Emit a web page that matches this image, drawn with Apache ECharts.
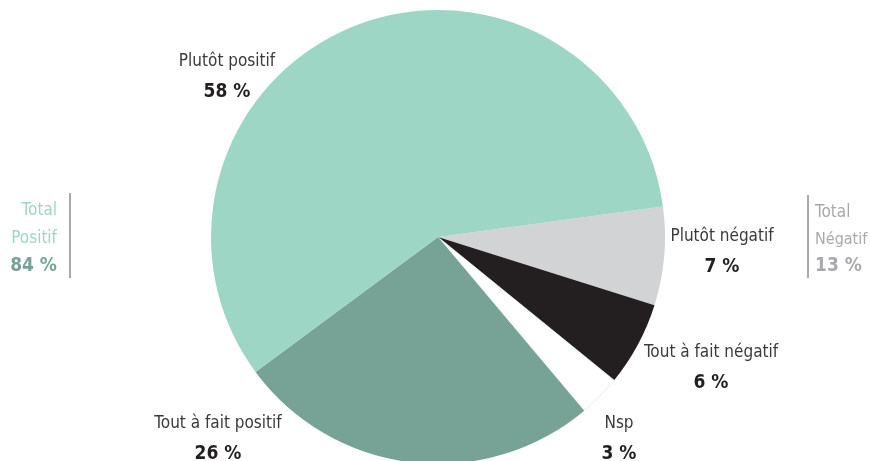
<!DOCTYPE html>
<html>
<head>
<meta charset="utf-8">
<script src="https://cdn.jsdelivr.net/npm/echarts@6/dist/echarts.min.js"></script>
<style>
  html, body { margin: 0; padding: 0; background: #fff; }
  #chart { width: 870px; height: 461px; }
</style>
</head>
<body>
<div id="chart"></div>
<script>
// slices, clockwise from the upper-right boundary
const categories = ['Plutôt négatif', 'Tout à fait négatif', 'Nsp', 'Tout à fait positif', 'Plutôt positif']
const percents = [7, 6, 3, 26, 58]
const sliceColors = ['#d1d3d4', '#231f20', '#ffffff', '#77a396', '#9ed6c6']
const totalPositif = 84
const totalNegatif = 13

// where each label block sits (centre of the two lines)
const labelPos = [[722, 252], [711, 368], [619, 439], [218, 439], [227, 77]]

const FONT = "'Liberation Sans Narrow', 'DejaVu Sans Condensed', sans-serif"

let chart = echarts.init(document.getElementById('chart'))
chart.setOption({
    animation: false,
    series: [{
        type: 'pie',
        center: [438, 237],
        radius: 227,
        startAngle: 7.7,
        clockwise: true,
        data: categories.map((c, i) => ({
            name: c,
            value: percents[i],
            itemStyle: c === 'Nsp'
                ? { color: sliceColors[i], borderColor: '#cfe6de', borderWidth: 0.6 }
                : { color: sliceColors[i] }
        })),
        label: {
            show: true,
            position: 'outside',
            formatter: p => '{n|' + p.name + '}\n{v|' + p.value + ' %}',
            align: 'center',
            rich: {
                n: { fontFamily: FONT, fontSize: 17, color: '#3a3a3a', lineHeight: 30, align: 'center' },
                v: { fontFamily: FONT, fontSize: 19, fontWeight: 'bold', color: '#231f20', lineHeight: 30, align: 'center' }
            }
        },
        labelLine: { show: false },
        labelLayout: function (params) {
            const p = labelPos[params.dataIndex]
            return { x: p[0], y: p[1], align: 'center', verticalAlign: 'middle' }
        },
        emphasis: { disabled: true }
    }],
    graphic: [
        { type: 'line', shape: { x1: 70, y1: 193, x2: 70, y2: 278 }, style: { stroke: '#555', lineWidth: 1 } },
        { type: 'text', x: 57, y: 211, style: { text: 'Total', font: '17px ' + FONT, fill: '#9ed6c6', align: 'right', verticalAlign: 'middle' } },
        { type: 'text', x: 57, y: 239, style: { text: 'Positif', font: '17px ' + FONT, fill: '#9ed6c6', align: 'right', verticalAlign: 'middle' } },
        { type: 'text', x: 57, y: 266, style: { text: totalPositif + ' %', font: 'bold 19px ' + FONT, fill: '#77a396', align: 'right', verticalAlign: 'middle' } },
        { type: 'line', shape: { x1: 808, y1: 195, x2: 808, y2: 278 }, style: { stroke: '#555', lineWidth: 1 } },
        { type: 'text', x: 815, y: 213, style: { text: 'Total', font: '17px ' + FONT, fill: '#a7a9ac', align: 'left', verticalAlign: 'middle' } },
        { type: 'text', x: 815, y: 240, style: { text: 'Négatif', font: '16px ' + FONT, fill: '#a7a9ac', align: 'left', verticalAlign: 'middle' } },
        { type: 'text', x: 815, y: 266, style: { text: totalNegatif + ' %', font: 'bold 19px ' + FONT, fill: '#a7a9ac', align: 'left', verticalAlign: 'middle' } }
    ]
})
</script>
</body>
</html>
